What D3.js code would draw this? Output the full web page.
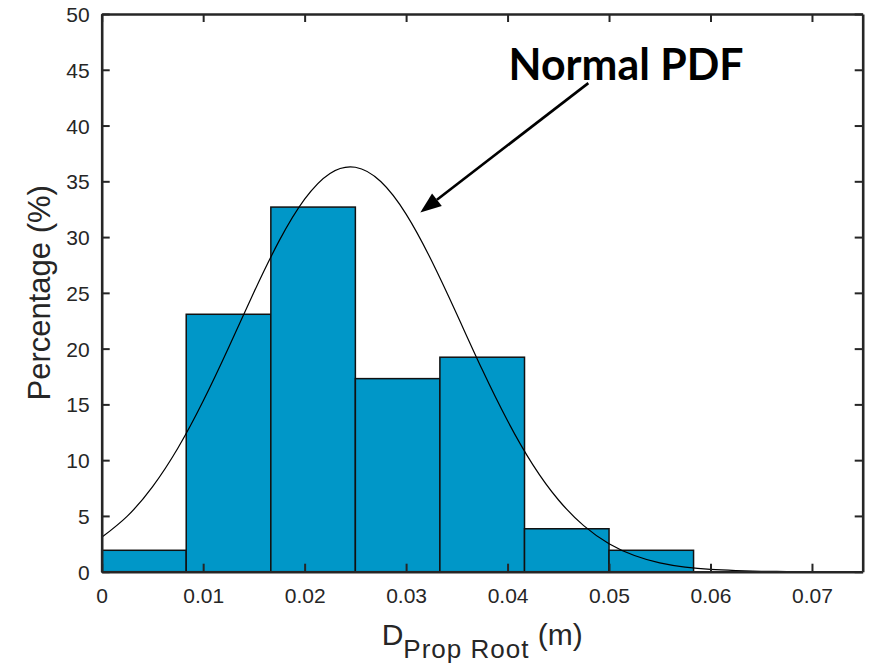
<!DOCTYPE html>
<html>
<head>
<meta charset="utf-8">
<script src="https://cdn.jsdelivr.net/npm/d3@7"></script>
<style>
  body { margin: 0; background: #fff; }
  text { font-family: "Liberation Sans", Arial, sans-serif; }
</style>
</head>
<body>
<div id="chart"></div>
<script>
// histogram bins (m) and share of samples in each bin (%)
const binEdges = [0, 0.00833, 0.01667, 0.025, 0.03333, 0.04167, 0.05, 0.05833];
const percentages = [1.92, 23.08, 32.69, 17.31, 19.23, 3.85, 1.92];

// fitted normal PDF
const pdfX = [0, 0.0025, 0.005, 0.0075, 0.01, 0.0125, 0.015, 0.0175, 0.02, 0.0225, 0.025,
  0.0275, 0.03, 0.0325, 0.035, 0.0375, 0.04, 0.0425, 0.045, 0.0475, 0.05, 0.0525, 0.055,
  0.0575, 0.06, 0.0625, 0.065, 0.0675, 0.07, 0.0725, 0.075];
const pdfY = [3.08, 4.96, 7.61, 11.07, 15.30, 20.08, 25.05, 29.68, 33.40, 35.71, 36.26,
  34.98, 32.06, 27.90, 23.08, 18.12, 13.53, 9.58, 6.45, 4.13, 2.51, 1.45, 0.79,
  0.41, 0.20, 0.10, 0.04, 0.02, 0.01, 0.00, 0.00];

const xTicks = [0, 0.01, 0.02, 0.03, 0.04, 0.05, 0.06, 0.07];
const yTicks = [0, 5, 10, 15, 20, 25, 30, 35, 40, 45, 50];

const width = 874, height = 665;
const margin = { top: 14, right: 11.3, bottom: 93.3, left: 101.7 };
const innerW = width - margin.left - margin.right;
const innerH = height - margin.top - margin.bottom;

const svg = d3.select('#chart').append('svg')
  .attr('width', width)
  .attr('height', height);

const g = svg.append('g')
  .attr('transform', `translate(${margin.left},${margin.top})`);

const x = d3.scaleLinear().domain([0, 0.075]).range([0, innerW]);
const y = d3.scaleLinear().domain([0, 50]).range([innerH, 0]);

// bars
const bins = percentages.map((p, i) => ({ x0: binEdges[i], x1: binEdges[i + 1], value: p }));
g.selectAll('.bar')
  .data(bins)
  .join('rect')
  .attr('class', 'bar')
  .attr('x', d => x(d.x0))
  .attr('y', d => y(d.value))
  .attr('width', d => x(d.x1) - x(d.x0))
  .attr('height', d => y(0) - y(d.value))
  .attr('fill', '#0097c8')
  .attr('stroke', '#111')
  .attr('stroke-width', 1.5);

// normal pdf curve
const line = d3.line()
  .x((d, i) => x(pdfX[i]))
  .y(d => y(Math.max(0, d)))
  .curve(d3.curveNatural);
g.append('path')
  .datum(pdfY)
  .attr('d', line)
  .attr('fill', 'none')
  .attr('stroke', '#000')
  .attr('stroke-width', 1.2);

// axes, ticks inward on all four sides
const axisColor = '#262626';
const fmtX = d => d === 0 ? '0' : d3.format('.2f')(d);

const xAxis = g.append('g')
  .attr('transform', `translate(0,${innerH})`)
  .call(d3.axisBottom(x).tickValues(xTicks).tickFormat(fmtX).tickSizeInner(-8).tickSizeOuter(0).tickPadding(16));
const xTop = g.append('g')
  .call(d3.axisTop(x).tickValues(xTicks).tickFormat('').tickSizeInner(-8).tickSizeOuter(0));
const yAxis = g.append('g')
  .call(d3.axisLeft(y).tickValues(yTicks).tickSizeInner(-8).tickSizeOuter(0).tickPadding(12));
const yRight = g.append('g')
  .attr('transform', `translate(${innerW},0)`)
  .call(d3.axisRight(y).tickValues(yTicks).tickFormat('').tickSizeInner(-8).tickSizeOuter(0));

[xAxis, xTop, yAxis, yRight].forEach(a => {
  a.select('.domain').attr('stroke', axisColor).attr('stroke-width', 2.6);
  a.selectAll('.tick line').attr('stroke', axisColor).attr('stroke-width', 2);
  a.selectAll('.tick text')
    .attr('fill', axisColor)
    .style('font-size', '21px')
    .style('font-family', '"Liberation Sans", Arial, sans-serif');
});
yAxis.selectAll('.tick text').attr('dy', '0.36em');

// axis titles
svg.append('text')
  .attr('transform', `translate(50,${margin.top + innerH / 2}) rotate(-90)`)
  .attr('text-anchor', 'middle')
  .attr('fill', axisColor)
  .style('font-size', '31px')
  .text('Percentage (%)');

const xl = svg.append('text')
  .attr('x', margin.left + innerW / 2)
  .attr('y', 645)
  .attr('text-anchor', 'middle')
  .attr('fill', axisColor)
  .style('font-size', '30px');
xl.append('tspan').text('D');
xl.append('tspan').attr('dy', 13).style('font-size', '26px').style('letter-spacing', '1px').text('Prop Root');
xl.append('tspan').attr('dy', -13).text(' (m)');

// annotation
const ann = svg.append('g').attr('transform', `translate(${margin.left},${margin.top})`);
const tipX = 0.0314, tipY = 32.2, tailX = 0.04796, tailY = 43.8;
const ang = Math.atan2(y(tipY) - y(tailY), x(tipX) - x(tailX));
const headLen = 21, headHalf = 8;
const bx = x(tipX) - headLen * Math.cos(ang), by = y(tipY) - headLen * Math.sin(ang);
ann.append('line')
  .attr('x1', x(tailX)).attr('y1', y(tailY))
  .attr('x2', bx).attr('y2', by)
  .attr('stroke', '#000').attr('stroke-width', 2.6);
ann.append('path')
  .attr('d', `M${x(tipX)},${y(tipY)}
    L${bx + headHalf * Math.sin(ang)},${by - headHalf * Math.cos(ang)}
    L${bx - headHalf * Math.sin(ang)},${by + headHalf * Math.cos(ang)}Z`)
  .attr('fill', '#000');

ann.append('text')
  .attr('x', x(0.0401))
  .attr('y', y(44.1))
  .attr('textLength', 235)
  .attr('lengthAdjust', 'spacingAndGlyphs')
  .style('font-family', 'Lato, "Open Sans", sans-serif')
  .style('font-weight', 'bold')
  .style('font-size', '43px')
  .attr('fill', '#000')
  .text('Normal PDF');
</script>
</body>
</html>
